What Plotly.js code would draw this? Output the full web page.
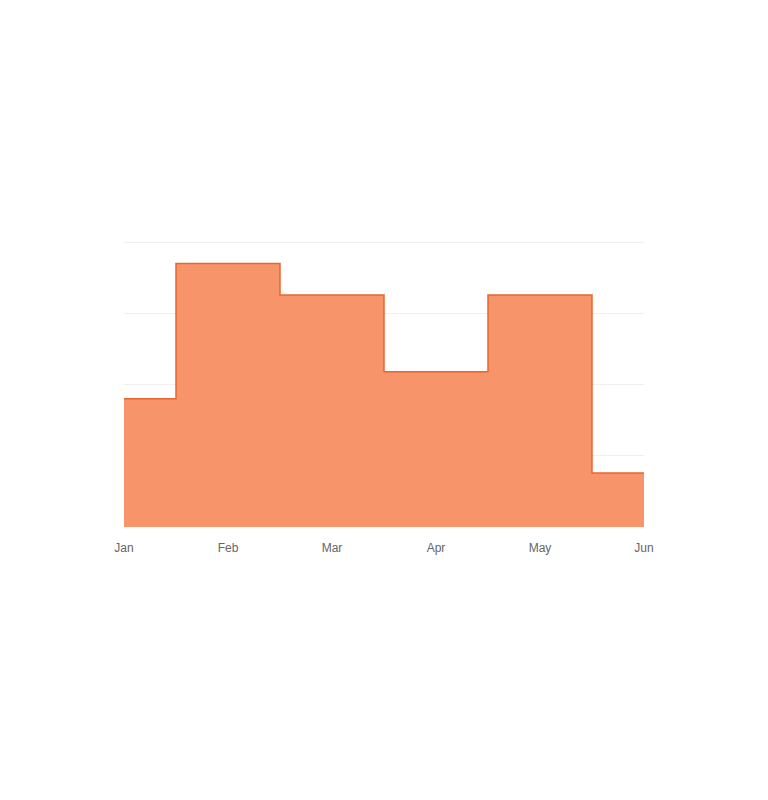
<!DOCTYPE html>
<html>
<head>
<meta charset="utf-8">
<script src="https://cdn.plot.ly/plotly-3.0.1.min.js"></script>
<style>
  html, body { margin: 0; padding: 0; background: #fff; }
  #chart { width: 768px; height: 800px; }
</style>
</head>
<body>
<div id="chart"></div>
<script>
// Monthly values
const months = ['Jan', 'Feb', 'Mar', 'Apr', 'May', 'Jun'];
const values = [9, 18.5, 16.3, 10.9, 16.3, 3.8];

const trace = {
  x: months,
  y: values,
  type: 'scatter',
  mode: 'lines',
  line: {shape: 'hvh', color: '#e9652f', width: 1.5},
  fill: 'tozeroy',
  fillcolor: 'rgba(247,140,94,0.93)',
  hoverinfo: 'x+y'
};

const layout = {
  width: 768,
  height: 800,
  // plot top sits a bit above the 20 gridline so that line is drawn
  margin: {l: 124, r: 124, t: 228, b: 273},
  paper_bgcolor: '#fff',
  plot_bgcolor: '#fff',
  showlegend: false,
  font: {family: 'Liberation Sans, Arial, sans-serif', size: 12, color: '#666'},
  xaxis: {
    type: 'category',
    range: [0, 5],
    showgrid: false,
    zeroline: false,
    showline: false,
    ticks: '',
    ticklabelstandoff: 12,
    tickfont: {size: 12, color: '#666'}
  },
  yaxis: {
    range: [0, 21],
    tickvals: [0, 5, 10, 15, 20],
    showgrid: true,
    gridcolor: '#efefef',
    zeroline: false,
    showticklabels: false,
    ticks: ''
  }
};

Plotly.newPlot('chart', [trace], layout, {displayModeBar: false});
</script>
</body>
</html>
